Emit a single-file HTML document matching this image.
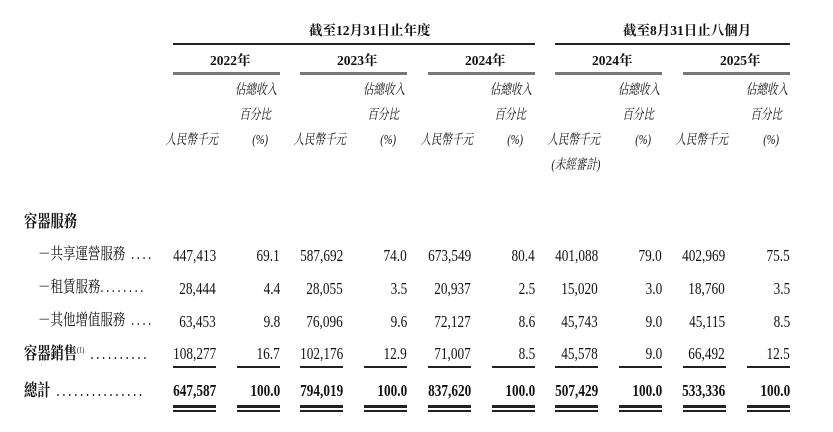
<!DOCTYPE html>
<html><head><meta charset="utf-8"><style>
body{margin:0;background:#fff;}
#c{position:relative;width:833px;height:432px;overflow:hidden;background:#fff;color:#111;font-family:"Liberation Serif","Noto Serif CJK SC","Noto Sans CJK TC",serif;}
.t{position:absolute;white-space:nowrap;line-height:1;}
.lb{position:absolute;white-space:nowrap;line-height:1;font-size:16px;transform:scaleX(0.78);transform-origin:left top;}
.n{position:absolute;white-space:nowrap;line-height:1;font-size:17px;transform:scaleX(0.78);transform-origin:right top;text-align:right;}
.h{position:absolute;white-space:nowrap;line-height:1;font-size:14px;font-style:italic;text-align:right;transform:scaleX(0.75);transform-origin:right top;}
.b{font-weight:bold;}
.l{position:absolute;background:#222;}
.g{position:absolute;background:#777;height:3px;}
.d{letter-spacing:3.3px;font-weight:normal;}
</style></head><body><div id="c">
<div class="t b" style="left:309px;top:24px;font-size:13.5px;">截至12月31日止年度</div>
<div class="t b" style="left:623px;top:24px;font-size:13.5px;">截至8月31日止八個月</div>
<div class="l" style="left:173px;top:43px;width:362px;height:1.5px;"></div>
<div class="l" style="left:555px;top:43px;width:235px;height:1.5px;"></div>

<div class="t b" style="left:210px;top:54px;font-size:13.5px;">2022年</div>
<div class="t b" style="left:337px;top:54px;font-size:13.5px;">2023年</div>
<div class="t b" style="left:465px;top:54px;font-size:13.5px;">2024年</div>
<div class="t b" style="left:592px;top:54px;font-size:13.5px;">2024年</div>
<div class="t b" style="left:720px;top:54px;font-size:13.5px;">2025年</div>
<div class="g" style="left:173px;top:72px;width:107px;"></div>
<div class="g" style="left:300px;top:72px;width:107px;"></div>
<div class="g" style="left:428px;top:72px;width:107px;"></div>
<div class="g" style="left:555px;top:72px;width:107px;"></div>
<div class="g" style="left:683px;top:72px;width:107px;"></div>

<div class="h" style="right:556px;top:84px;">佔總收入</div>
<div class="h" style="right:562px;top:109px;">百分比</div>
<div class="h" style="right:565px;top:134px;">(%)</div>
<div class="h" style="right:615px;top:134px;">人民幣千元</div>
<div class="h" style="right:428px;top:84px;">佔總收入</div>
<div class="h" style="right:434px;top:109px;">百分比</div>
<div class="h" style="right:437px;top:134px;">(%)</div>
<div class="h" style="right:487px;top:134px;">人民幣千元</div>
<div class="h" style="right:301px;top:84px;">佔總收入</div>
<div class="h" style="right:307px;top:109px;">百分比</div>
<div class="h" style="right:310px;top:134px;">(%)</div>
<div class="h" style="right:360px;top:134px;">人民幣千元</div>
<div class="h" style="right:173px;top:84px;">佔總收入</div>
<div class="h" style="right:179px;top:109px;">百分比</div>
<div class="h" style="right:182px;top:134px;">(%)</div>
<div class="h" style="right:233px;top:134px;">人民幣千元</div>
<div class="h" style="right:233px;top:159px;">(未經審計)</div>
<div class="h" style="right:45px;top:84px;">佔總收入</div>
<div class="h" style="right:51px;top:109px;">百分比</div>
<div class="h" style="right:54px;top:134px;">(%)</div>
<div class="h" style="right:105px;top:134px;">人民幣千元</div>

<div class="lb b" style="left:24px;top:213px;font-size:17px;">容器服務</div>
<div class="lb" style="left:38px;top:247px;">－共享運營服務<span class="d"> ....</span></div>
<div class="lb" style="left:38px;top:280px;">－租賃服務<span class="d">........</span></div>
<div class="lb" style="left:38px;top:313px;">－其他增值服務<span class="d"> ....</span></div>
<div class="lb b" style="left:24px;top:345px;font-size:17px;">容器銷售<sup style="font-size:8px;font-weight:normal;">(1)</sup><span class="d"> ..........</span></div>
<div class="lb b" style="left:24px;top:382px;font-size:17px;">總計<span class="d"> ...............</span></div>

<div class="n" style="right:617px;top:247px;">447,413</div><div class="n" style="right:553px;top:247px;">69.1</div>
<div class="n" style="right:490px;top:247px;">587,692</div><div class="n" style="right:426px;top:247px;">74.0</div>
<div class="n" style="right:362px;top:247px;">673,549</div><div class="n" style="right:298px;top:247px;">80.4</div>
<div class="n" style="right:235px;top:247px;">401,088</div><div class="n" style="right:171px;top:247px;">79.0</div>
<div class="n" style="right:108px;top:247px;">402,969</div><div class="n" style="right:43px;top:247px;">75.5</div>

<div class="n" style="right:617px;top:280px;">28,444</div><div class="n" style="right:553px;top:280px;">4.4</div>
<div class="n" style="right:490px;top:280px;">28,055</div><div class="n" style="right:426px;top:280px;">3.5</div>
<div class="n" style="right:362px;top:280px;">20,937</div><div class="n" style="right:298px;top:280px;">2.5</div>
<div class="n" style="right:235px;top:280px;">15,020</div><div class="n" style="right:171px;top:280px;">3.0</div>
<div class="n" style="right:108px;top:280px;">18,760</div><div class="n" style="right:43px;top:280px;">3.5</div>

<div class="n" style="right:617px;top:313px;">63,453</div><div class="n" style="right:553px;top:313px;">9.8</div>
<div class="n" style="right:490px;top:313px;">76,096</div><div class="n" style="right:426px;top:313px;">9.6</div>
<div class="n" style="right:362px;top:313px;">72,127</div><div class="n" style="right:298px;top:313px;">8.6</div>
<div class="n" style="right:235px;top:313px;">45,743</div><div class="n" style="right:171px;top:313px;">9.0</div>
<div class="n" style="right:108px;top:313px;">45,115</div><div class="n" style="right:43px;top:313px;">8.5</div>

<div class="n" style="right:617px;top:345px;">108,277</div><div class="n" style="right:553px;top:345px;">16.7</div>
<div class="n" style="right:490px;top:345px;">102,176</div><div class="n" style="right:426px;top:345px;">12.9</div>
<div class="n" style="right:362px;top:345px;">71,007</div><div class="n" style="right:298px;top:345px;">8.5</div>
<div class="n" style="right:235px;top:345px;">45,578</div><div class="n" style="right:171px;top:345px;">9.0</div>
<div class="n" style="right:108px;top:345px;">66,492</div><div class="n" style="right:43px;top:345px;">12.5</div>

<div class="n b" style="right:617px;top:382px;">647,587</div><div class="n b" style="right:553px;top:382px;">100.0</div>
<div class="n b" style="right:490px;top:382px;">794,019</div><div class="n b" style="right:426px;top:382px;">100.0</div>
<div class="n b" style="right:362px;top:382px;">837,620</div><div class="n b" style="right:298px;top:382px;">100.0</div>
<div class="n b" style="right:235px;top:382px;">507,429</div><div class="n b" style="right:171px;top:382px;">100.0</div>
<div class="n b" style="right:108px;top:382px;">533,336</div><div class="n b" style="right:43px;top:382px;">100.0</div>

<div class="l" style="left:173px;top:366px;width:43px;height:1.5px;"></div>
<div class="l" style="left:237px;top:366px;width:43px;height:1.5px;"></div>
<div class="l" style="left:300px;top:366px;width:43px;height:1.5px;"></div>
<div class="l" style="left:364px;top:366px;width:43px;height:1.5px;"></div>
<div class="l" style="left:428px;top:366px;width:43px;height:1.5px;"></div>
<div class="l" style="left:492px;top:366px;width:43px;height:1.5px;"></div>
<div class="l" style="left:555px;top:366px;width:43px;height:1.5px;"></div>
<div class="l" style="left:619px;top:366px;width:43px;height:1.5px;"></div>
<div class="l" style="left:683px;top:366px;width:43px;height:1.5px;"></div>
<div class="l" style="left:747px;top:366px;width:43px;height:1.5px;"></div>

<div class="l" style="left:173px;top:405px;width:43px;height:3px;"></div><div class="l" style="left:173px;top:410px;width:43px;height:1.5px;"></div>
<div class="l" style="left:237px;top:405px;width:43px;height:3px;"></div><div class="l" style="left:237px;top:410px;width:43px;height:1.5px;"></div>
<div class="l" style="left:300px;top:405px;width:43px;height:3px;"></div><div class="l" style="left:300px;top:410px;width:43px;height:1.5px;"></div>
<div class="l" style="left:364px;top:405px;width:43px;height:3px;"></div><div class="l" style="left:364px;top:410px;width:43px;height:1.5px;"></div>
<div class="l" style="left:428px;top:405px;width:43px;height:3px;"></div><div class="l" style="left:428px;top:410px;width:43px;height:1.5px;"></div>
<div class="l" style="left:492px;top:405px;width:43px;height:3px;"></div><div class="l" style="left:492px;top:410px;width:43px;height:1.5px;"></div>
<div class="l" style="left:555px;top:405px;width:43px;height:3px;"></div><div class="l" style="left:555px;top:410px;width:43px;height:1.5px;"></div>
<div class="l" style="left:619px;top:405px;width:43px;height:3px;"></div><div class="l" style="left:619px;top:410px;width:43px;height:1.5px;"></div>
<div class="l" style="left:683px;top:405px;width:43px;height:3px;"></div><div class="l" style="left:683px;top:410px;width:43px;height:1.5px;"></div>
<div class="l" style="left:747px;top:405px;width:43px;height:3px;"></div><div class="l" style="left:747px;top:410px;width:43px;height:1.5px;"></div>
</div></body></html>
